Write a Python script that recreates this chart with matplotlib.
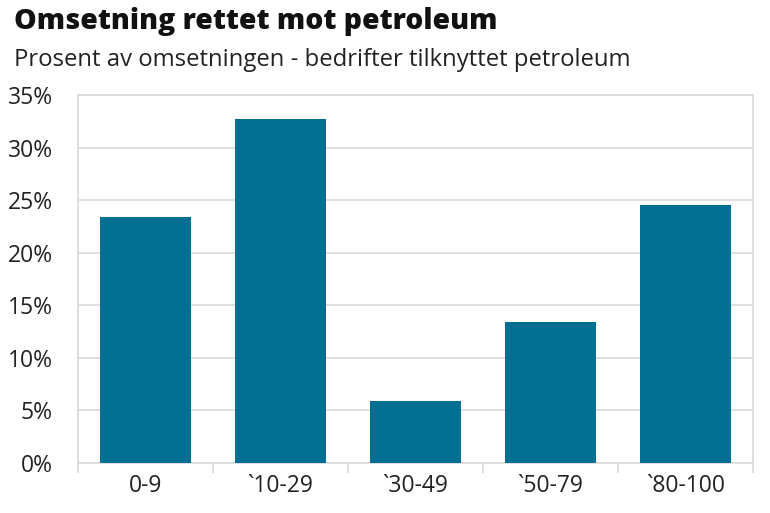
import matplotlib
matplotlib.use("Agg")
import matplotlib.pyplot as plt
from matplotlib.ticker import FuncFormatter, FixedLocator

categories = ["0-9", "`10-29", "`30-49", "`50-79", "`80-100"]
values = [23.4, 32.7, 5.9, 13.4, 24.5]
yticks = [0, 5, 10, 15, 20, 25, 30, 35]

plt.rcParams['font.family'] = ['Open Sans', 'DejaVu Sans']

fig = plt.figure(figsize=(7.7, 5.13), dpi=100)
ax = fig.add_axes([78/770, 1 - 463/513, (753-78)/770, (463-95)/513])

x = range(len(categories))
ax.bar(x, values, width=0.67, color="#006f92", zorder=3)
ax.set_xlim(-0.5, len(categories) - 0.5)
ax.set_ylim(0, 35)
ax.set_yticks(yticks)
ax.yaxis.set_major_formatter(FuncFormatter(lambda v, p: f"{int(v)}%"))
ax.grid(axis='y', color="#d9d9d9", linewidth=1.2, zorder=0)
ax.set_xticks(list(x))
ax.set_xticklabels(categories)
ax.xaxis.set_minor_locator(FixedLocator([i + 0.5 for i in range(-1, len(categories))]))
ax.tick_params(axis='x', which='major', length=0, pad=8, labelsize=16.5, colors="#222222")
ax.tick_params(axis='x', which='minor', length=7, width=1.2, color="#d9d9d9")
ax.tick_params(axis='y', length=0, pad=18, labelsize=16.5, colors="#222222")
for s in ax.spines.values():
    s.set_color("#d9d9d9")
    s.set_linewidth(1.2)

fig.text(14/770, 1 - 21/513, "Omsetning rettet mot petroleum", fontsize=20.4,
         fontweight='heavy', va='center', ha='left', color="#111111")
fig.text(14/770, 1 - 60/513, "Prosent av omsetningen - bedrifter tilknyttet petroleum",
         fontsize=17.2, va='center', ha='left', color="#222222")

fig.savefig("out.png", dpi=100)
